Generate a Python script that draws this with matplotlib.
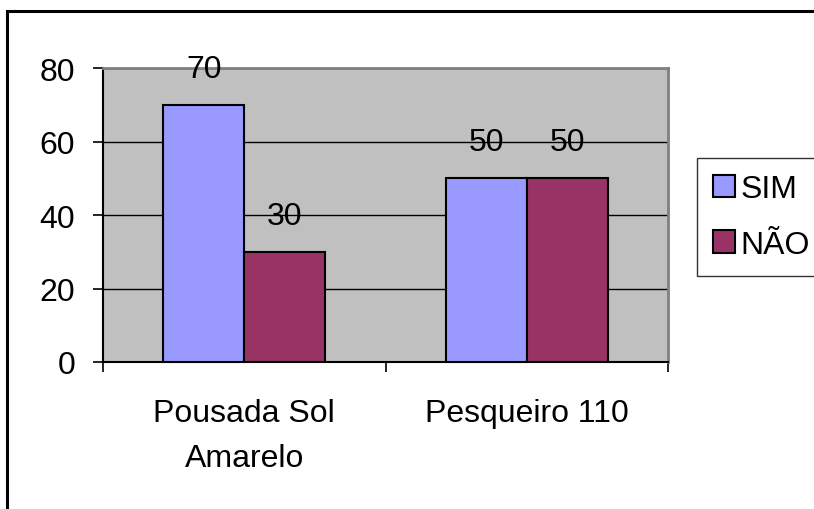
import matplotlib
matplotlib.use("Agg")
import matplotlib.pyplot as plt
import numpy as np
from matplotlib.patches import Rectangle

categories = ["Pousada Sol\nAmarelo", "Pesqueiro 110"]
sim = [70, 50]
nao = [30, 50]
series_names = ["SIM", "NÃO"]
yticks = [0, 20, 40, 60, 80]

plt.rcParams['font.family'] = ['Liberation Sans', 'DejaVu Sans']
FS = 23

fig = plt.figure(figsize=(8.14, 5.10), dpi=100)
W, H = 814, 510
# outer border (cut off at right and bottom)
fig.patches.append(Rectangle((7 / W, -0.1), 1.2, 1 - 12 / H + 0.1, transform=fig.transFigure,
                             fill=False, edgecolor='black', linewidth=2.2, zorder=0))

ax = fig.add_axes([103 / W, 1 - 363 / H, 565 / W, 294 / H])
ax.set_facecolor('#C0C0C0')
x = np.arange(len(categories))
bw = 0.287
b1 = ax.bar(x - bw / 2, sim, bw, color='#9999FF', edgecolor='black', linewidth=1.5, label=series_names[0], zorder=3)
b2 = ax.bar(x + bw / 2, nao, bw, color='#993366', edgecolor='black', linewidth=1.5, label=series_names[1], zorder=3)

for bars in (b1, b2):
    for r in bars:
        ax.annotate(f"{int(r.get_height())}", (r.get_x() + r.get_width() / 2, r.get_height()),
                    xytext=(0, 15), textcoords='offset points', ha='center', va='bottom', fontsize=FS)

ax.set_xlim(-0.5, 1.5)
ax.set_ylim(0, 80)
ax.set_yticks(yticks)
ax.set_yticklabels([str(v) for v in yticks], fontsize=FS)
ax.yaxis.grid(True, color='black', linewidth=1.0, zorder=1)
ax.set_axisbelow(True)

ax.set_xticks([-0.5, 0.5, 1.5])
ax.set_xticklabels([])
ax.set_xticks(x, minor=True)
ax.set_xticklabels(categories, minor=True, fontsize=FS, linespacing=1.65)
ax.tick_params(axis='x', which='minor', length=0, pad=26)
ax.tick_params(axis='x', which='major', length=7, width=1.2, direction='out')
ax.tick_params(axis='y', length=7, width=1.2, direction='out', pad=13)

for s in ('top', 'right'):
    ax.spines[s].set_color('#808080')
    ax.spines[s].set_linewidth(2)
for s in ('left', 'bottom'):
    ax.spines[s].set_color('black')
    ax.spines[s].set_linewidth(1.5)

leg = fig.legend(handles=[b1, b2], labels=series_names, loc='upper left',
                 bbox_to_anchor=(697 / W, 1 - 159 / H), bbox_transform=fig.transFigure,
                 fontsize=FS, frameon=True, fancybox=False, edgecolor='black',
                 handlelength=0.7, handleheight=0.7, handletextpad=0.15,
                 borderpad=0.5, labelspacing=0.8, borderaxespad=0)
leg.get_frame().set_linewidth(1.0)

fig.savefig("out.png", dpi=100)
